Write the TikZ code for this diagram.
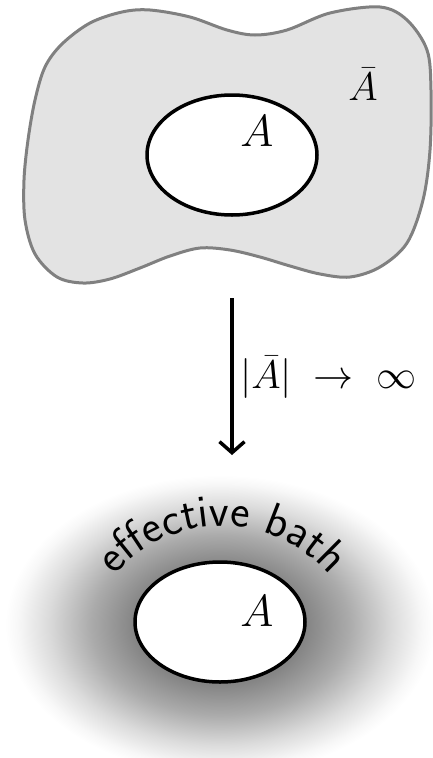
\documentclass[tikz,border=0pt]{standalone}
\usepackage{fix-cm}
\usetikzlibrary{decorations.text,arrows.meta}
\definecolor{blobfill}{HTML}{E3E3E3}
\definecolor{blobline}{HTML}{808080}
\pgfdeclareradialshading{bathshade}{\pgfpoint{0bp}{0bp}}{%
  color(0bp)=(black!50); color(10bp)=(black!48); color(15bp)=(black!33);
  color(20bp)=(black!14); color(23.5bp)=(black!3); color(25bp)=(white); color(50bp)=(white)}
\tikzset{
  region/.style={draw=black, line width=3.5pt, fill=white},
  biglabel/.style={font=\fontsize{45}{50}\selectfont, inner sep=0pt},
}
\begin{document}
\begin{tikzpicture}[x=1pt,y=1pt]
\useasboundingbox (0,0) rectangle (433,-758);
% blob
\draw[draw=blobline, fill=blobfill, line width=3pt]
  plot[smooth cycle, tension=0.55] coordinates {
  (150,-10) (190,-17) (227,-30) (255,-35) (287,-30) (330,-13) (380,-7) (407,-20)
  (427,-50) (431,-90) (430,-150) (423,-200) (407,-243) (380,-267) (350,-277)
  (320,-274) (290,-266) (260,-257) (230,-250) (200,-248) (170,-256) (140,-268)
  (110,-279) (83,-283) (57,-277) (35,-254) (25,-220) (24,-180) (28,-140)
  (35,-100) (45,-67) (62,-44) (90,-23) (122,-12)};
\draw[region] (232,-155) ellipse [x radius=85, y radius=60];
\node[biglabel] (Atop) at (257,-131) {$A$};
\node[font=\fontsize{40}{44}\selectfont, inner sep=0pt] (Abar) at (363,-84) {$\bar{A}$};
% arrow
\coordinate (arrtop) at (232,-298);
\coordinate (arrbot) at (232,-455);
\draw[line width=3.5pt, -{Straight Barb[length=11pt,width=25pt]}] (arrtop) -- (arrbot);
\node[font=\fontsize{40}{44}\selectfont, inner sep=0pt, anchor=west] (lim) at (240,-377) {$|\bar{A}|\;\to\;\infty$};
% bath
\shade[shading=bathshade] (220,-625) ellipse [x radius=215, y radius=150];
\draw[region] (220,-622) ellipse [x radius=85, y radius=60];
\node[biglabel] (Abot) at (257,-611) {$A$};
\path[decorate, decoration={text along path, text align=center,
  text={|\sffamily\fontsize{46}{52}\selectfont|effective bath}}]
  (222,-668) ++(150:142) arc[start angle=150, end angle=30, radius=142];
\end{tikzpicture}
\end{document}
